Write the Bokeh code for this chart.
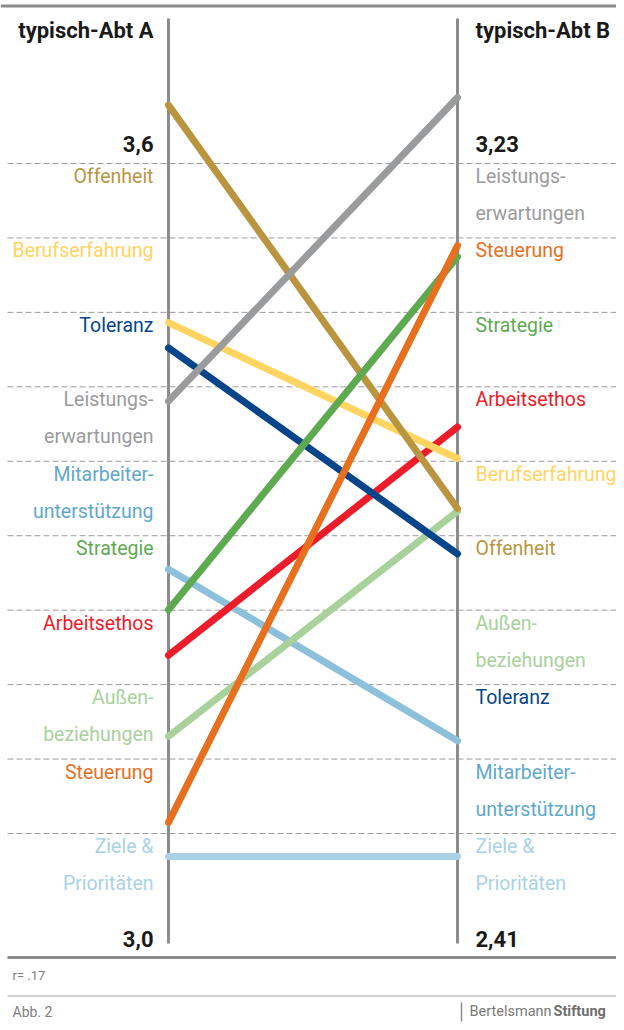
from bokeh.plotting import figure
from bokeh.models import Range1d, ColumnDataSource
from bokeh.core.properties import value
from bokeh.embed import file_html
from bokeh.resources import INLINE

# ---------------- data ----------------
categories = ["Offenheit", "Berufserfahrung", "Toleranz", "Leistungserwartungen",
              "Mitarbeiterunterstützung", "Strategie", "Arbeitsethos",
              "Außenbeziehungen", "Steuerung", "Ziele & Prioritäten"]
display_lines = [["Offenheit"], ["Berufserfahrung"], ["Toleranz"],
                 ["Leistungs-", "erwartungen"], ["Mitarbeiter-", "unterstützung"],
                 ["Strategie"], ["Arbeitsethos"], ["Außen-", "beziehungen"],
                 ["Steuerung"], ["Ziele &", "Prioritäten"]]
values_a = [3.594, 3.422, 3.402, 3.360, 3.227, 3.195, 3.159, 3.095, 3.027, 3.000]
values_b = [2.786, 2.840, 2.737, 3.230, 2.535, 3.058, 2.874, 2.783, 3.070, 2.410]
line_colors = ["#B9953F", "#FFD460", "#064589", "#9A9B9D", "#8DC0DA",
               "#5DAA51", "#EC1C2A", "#A9D19C", "#E86F1E", "#A9D2E4"]
label_colors = ["#B9953F", "#FFD460", "#064589", "#9A9B9D", "#5FA8CC",
                "#5DAA51", "#EC1C2A", "#A9D19C", "#E86F1E", "#A9D2E4"]
draw_order = ["Ziele & Prioritäten", "Mitarbeiterunterstützung", "Außenbeziehungen",
              "Arbeitsethos", "Toleranz", "Berufserfahrung", "Offenheit",
              "Strategie", "Leistungserwartungen", "Steuerung"]
headers = ["typisch-Abt A", "typisch-Abt B"]
range_a = [3.0, 3.6]
range_b = [2.41, 3.23]
range_a_labels = ["3,0", "3,6"]
range_b_labels = ["2,41", "3,23"]
note = "r= .17"
fig_label = "Abb. 2"

# ---------------- layout (pixels) ----------------
W, H = 616, 1022
X_A, X_B = 168, 457          # column axes
Y_TOP, Y_BOT = 97, 856       # position of range max / min
FONT = "Roboto"

p = figure(width=W, height=H, x_range=Range1d(0, W), y_range=Range1d(H, 0),
           output_backend="svg", toolbar_location=None, min_border=0,
           x_axis_type=None, y_axis_type=None, outline_line_color=None)
p.grid.visible = False
p.background_fill_color = "white"

span = Y_BOT - Y_TOP
p.extra_y_ranges = {"val": Range1d(start=-(H - Y_BOT) / span, end=1 + Y_TOP / span)}
colw = X_B - X_A
p.extra_x_ranges = {"col": Range1d(start=-X_A / colw, end=1 + (W - X_B) / colw)}

# top rule
p.segment(x0=[0], x1=[W], y0=[5.5], y1=[5.5], line_color="#8C8C8C", line_width=3)

# slot dashed lines
n = len(categories)
slot0, slot_step = 163, (833 - 163) / (n - 1)
slot_y = [slot0 + k * slot_step for k in range(n)]
p.segment(x0=[7] * n, x1=[W] * n, y0=slot_y, y1=slot_y,
          line_color="#9C9C9C", line_width=1, line_dash="6 3")

# column axes
p.segment(x0=[0, 1], x1=[0, 1], y0=[18, 18], y1=[943, 943], x_range_name="col",
          line_color="#8C8C8C", line_width=3)

# data lines (normalised within each column's range)
def norm(v, r):
    return (v - r[0]) / (r[1] - r[0])

for name in draw_order:
    i = categories.index(name)
    p.line(x=[0, 1], y=[norm(values_a[i], range_a), norm(values_b[i], range_b)],
           x_range_name="col", y_range_name="val",
           line_color=line_colors[i], line_width=7, line_cap="round")

# category labels in rank slots
def add_labels(vals, x, align):
    order = sorted(range(n), key=lambda i: -vals[i])
    xs, ys, ts, cs = [], [], [], []
    for slot, i in enumerate(order):
        for j, t in enumerate(display_lines[i]):
            xs.append(x)
            ys.append(slot_y[slot] + 13 + j * 37)
            ts.append(t)
            cs.append(label_colors[i])
    src = ColumnDataSource(dict(x=xs, y=ys, t=ts, c=cs))
    p.text(x="x", y="y", text="t", source=src, text_color="c", text_align=align,
           text_baseline="middle", text_font=value(FONT), text_font_size="19.5px")

add_labels(values_a, 153, "right")
add_labels(values_b, 475, "left")

# headers and range labels
hdr = ColumnDataSource(dict(x=[153, 475], y=[30, 30], t=headers, a=["right", "left"]))
p.text(x="x", y="y", text="t", source=hdr, text_align="a", text_baseline="middle",
       text_font=value(FONT), text_font_style="bold", text_font_size="22px",
       text_color="#1A1A1A")
rl = ColumnDataSource(dict(x=[153, 153, 475, 475], y=[938, 143, 938, 143],
                           t=range_a_labels + range_b_labels,
                           a=["right", "right", "left", "left"]))
p.text(x="x", y="y", text="t", source=rl, text_align="a", text_baseline="middle",
       text_font=value(FONT), text_font_style="bold", text_font_size="22px",
       text_color="#1A1A1A")

# bottom rules and footer
p.segment(x0=[7], x1=[W], y0=[957], y1=[957], line_color="#8C8C8C", line_width=3)
p.segment(x0=[7], x1=[W], y0=[995.5], y1=[995.5], line_color="#A0A0A0", line_width=1)
p.segment(x0=[461], x1=[461], y0=[1002], y1=[1021], line_color="#8C8C8C", line_width=1.5)
p.text(x=[12], y=[975], text=[note], text_baseline="middle", text_font=value(FONT),
       text_font_size="13px", text_color="#808080")
p.text(x=[12], y=[1011], text=[fig_label], text_baseline="middle", text_font=value(FONT),
       text_font_size="14px", text_color="#808080")
p.text(x=[469], y=[1011], text=["Bertelsmann"], text_baseline="middle",
       text_font=value(FONT), text_font_size="14.5px", text_color="#7A7A7A")
p.text(x=[553], y=[1011], text=["Stiftung"], text_baseline="middle",
       text_font=value(FONT), text_font_style="bold",
       text_font_size="14.5px", text_color="#6E6E6E")

open("out.html", "w").write(file_html(p, INLINE))
